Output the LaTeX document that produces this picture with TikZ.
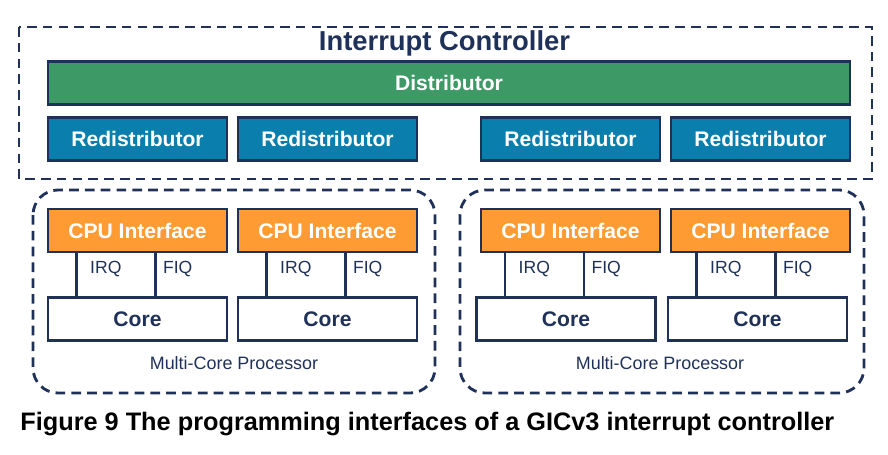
\documentclass[tikz,border=0pt]{standalone}
\usepackage{fontspec}
\setmainfont{Liberation Sans}

\definecolor{navy}{HTML}{1F3158}
\definecolor{distgreen}{HTML}{3D9965}
\definecolor{redistblue}{HTML}{0A7FAD}
\definecolor{cpuorange}{HTML}{FF9B33}

\tikzset{
    block/.style = {draw = navy, line width = 1.6pt, minimum width = 3.58cm, minimum height = 0.86cm, inner sep = 0pt, font = \fontsize{12}{14}\selectfont\bfseries},
    distbox/.style = {block, fill = distgreen, text = white, minimum width = 16.04cm},
    redistbox/.style = {block, fill = redistblue, text = white},
    cpubox/.style = {block, fill = cpuorange, text = white},
    corebox/.style = {block, fill = white, text = navy},
    dashbox/.style = {draw = navy, line width = 1.6pt, dash pattern = on 5.5pt off 3.5pt},
    sig/.style = {draw = navy, line width = 1.5pt},
    siglabel/.style = {font = \fontsize{10}{12}\selectfont, text = navy, inner sep = 0pt}
}

\begin{document}
\begin{tikzpicture}[x = 0.02cm, y = -0.02cm]
        \useasboundingbox (0,0) rectangle (888,454);
        
        % interrupt controller
        \draw[dashbox] (19,27) rectangle (872,179);
        \node[text = navy, font = \fontsize{15.6}{18}\selectfont\bfseries] (title) at (444.5,43) {Interrupt Controller};
        \node[distbox] (dist) at (449,83) {Distributor};
        \node[redistbox] (rd1) at (137.5,139) {Redistributor};
        \node[redistbox] (rd2) at (327.5,139) {Redistributor};
        \node[redistbox] (rd3) at (570.5,139) {Redistributor};
        \node[redistbox] (rd4) at (760.5,139) {Redistributor};
        
        % multi-core processors
        \draw[dashbox, rounded corners = 0.5cm] (33,190) rectangle (435,393);
        \draw[dashbox, rounded corners = 0.5cm] (460,190) rectangle (864,393);
        \node[text = navy, font = \fontsize{10.2}{12}\selectfont] (mcp1) at (234,363) {Multi-Core Processor};
        \node[text = navy, font = \fontsize{10.2}{12}\selectfont] (mcp2) at (660,363) {Multi-Core Processor};
        
        \foreach \i/\cx/\kx in {1/137.5/137.5, 2/327.5/327.5, 3/570.5/566, 4/760.5/757.5} {
            \node[cpubox] (cpu\i) at (\cx,230.5) {CPU Interface};
            \node[corebox] (core\i) at (\kx,319) {Core};
            \path (core\i.north west) ++(30,0) coordinate (irq\i) ++(79,0) coordinate (fiq\i);
            \draw[sig] (irq\i) -- (irq\i |- cpu\i.south) node[siglabel, pos = 0.64, anchor = west, xshift = 7pt]{IRQ};
            \draw[sig] (fiq\i) -- (fiq\i |- cpu\i.south) node[siglabel, pos = 0.64, anchor = west, xshift = 3.5pt]{FIQ};
        }
        
        \node[anchor = west, inner sep = 0pt, font = \fontsize{14.4}{17}\selectfont\bfseries] (caption) at (20,424) {Figure 9 The programming interfaces of a GICv3 interrupt controller};
    \end{tikzpicture}
\end{document}
